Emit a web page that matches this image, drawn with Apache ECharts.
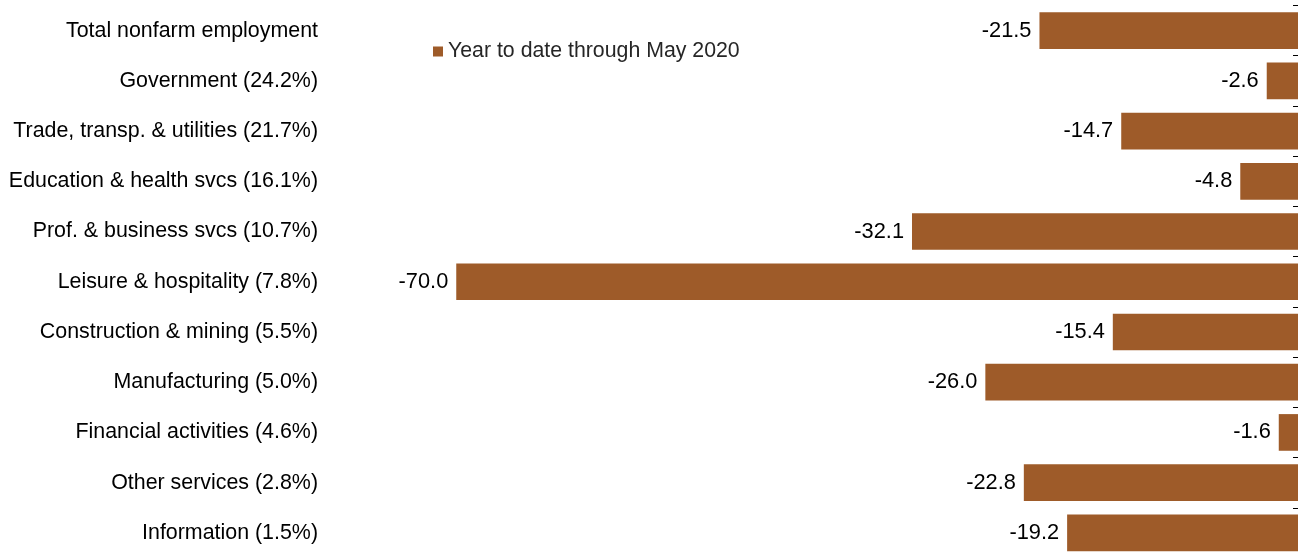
<!DOCTYPE html>
<html><head><meta charset="utf-8">
<script src="https://cdn.jsdelivr.net/npm/echarts@6/dist/echarts.min.js"></script>
<style>html,body{margin:0;padding:0;background:#fff}#c{width:1299px;height:558px}</style>
</head><body><div id="c"></div>
<script>
const categories = ["Total nonfarm employment","Government (24.2%)","Trade, transp. & utilities (21.7%)","Education & health svcs (16.1%)","Prof. & business svcs (10.7%)","Leisure & hospitality (7.8%)","Construction & mining (5.5%)","Manufacturing (5.0%)","Financial activities (4.6%)","Other services (2.8%)","Information (1.5%)"];
const ytdValues = [-21.5,-2.6,-14.7,-4.8,-32.1,-70.0,-15.4,-26.0,-1.6,-22.8,-19.2];
const seriesName = "Year to date through May 2020";

const chart = echarts.init(document.getElementById('c'));
const font = "'Liberation Sans', Arial, sans-serif";
chart.setOption({
  animation:false,
  textStyle:{fontFamily:font},
  legend:{left:428,top:36,itemWidth:10,itemHeight:10,itemGap:10,icon:'rect',
    textStyle:{fontSize:21.3,color:'#262626',fontFamily:font},data:[seriesName]},
  grid:{left:336,right:1,top:5.5,bottom:-5,containLabel:false},
  xAxis:{type:'value',min:-80,max:0,show:false,splitLine:{show:false}},
  yAxis:[
    {type:'category',data:categories,inverse:true,position:'left',
     axisLine:{show:false},axisTick:{show:false},
     axisLabel:{fontSize:21.4,color:'#000',margin:18,fontFamily:font}},
    {type:'category',data:categories,inverse:true,position:'right',
     axisLine:{show:false},axisTick:{show:true,inside:true,length:5,lineStyle:{color:'#000'}},
     axisLabel:{show:false}}
  ],
  series:[{name:seriesName,type:'bar',yAxisIndex:0,data:ytdValues,barCategoryGap:'27%',
    itemStyle:{color:'#9E5B29'},
    label:{show:true,position:'left',distance:8,fontSize:21.8,color:'#000',fontFamily:font,
      formatter:p=>p.value.toFixed(1)}}]
});
</script></body></html>
